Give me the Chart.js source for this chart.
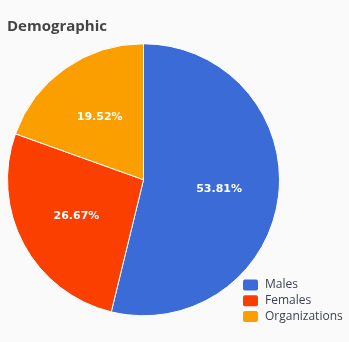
<!DOCTYPE html>
<html>
<head>
<meta charset="utf-8">
<script src="https://cdn.jsdelivr.net/npm/chart.js@4/dist/chart.umd.min.js"></script>
<style>
  html, body { margin: 0; padding: 0; background: #fafafa; }
  #wrap { width: 349px; height: 342px; position: relative; }
</style>
</head>
<body>
<div id="wrap"><canvas id="c" width="349" height="342"></canvas></div>
<script>
// Demographic breakdown (percent of total)
const categories = ['Males', 'Females', 'Organizations'];
const shares = [53.81, 26.67, 19.52];
const sliceColors = ['#3a6bd6', '#fb3f00', '#fb9e00'];

// White percentage text inside each slice
const sliceLabels = {
  id: 'sliceLabels',
  afterDatasetsDraw(chart) {
    const ctx = chart.ctx;
    const meta = chart.getDatasetMeta(0);
    const values = chart.data.datasets[0].data;
    ctx.save();
    ctx.font = 'bold 11px "DejaVu Sans", sans-serif';
    ctx.fillStyle = '#ffffff';
    ctx.textAlign = 'center';
    ctx.textBaseline = 'middle';
    meta.data.forEach((arc, i) => {
      const p = arc.getProps(['x', 'y', 'startAngle', 'endAngle', 'outerRadius'], true);
      const mid = (p.startAngle + p.endAngle) / 2;
      const r = p.outerRadius * 0.56;
      ctx.fillText(values[i].toFixed(2) + '%', p.x + Math.cos(mid) * r, p.y + Math.sin(mid) * r);
    });
    ctx.restore();
  }
};

// Compact legend in the lower right corner
const cornerLegend = {
  id: 'cornerLegend',
  afterDraw(chart) {
    const ctx = chart.ctx;
    const ds = chart.data.datasets[0];
    const boxX = chart.width - 106;
    const textX = boxX + 22;
    const firstY = chart.height - 57;
    const step = 15.75;
    ctx.save();
    ctx.font = '12px "Open Sans", sans-serif';
    ctx.textAlign = 'left';
    ctx.textBaseline = 'middle';
    chart.data.labels.forEach((lab, i) => {
      const cy = firstY + i * step;
      ctx.fillStyle = ds.backgroundColor[i];
      ctx.beginPath();
      ctx.roundRect(boxX, cy - 5.5, 15, 11, 2);
      ctx.fill();
      ctx.fillStyle = '#3d4354';
      ctx.fillText(lab, textX, cy);
    });
    ctx.restore();
  }
};

new Chart(document.getElementById('c'), {
  type: 'pie',
  data: {
    labels: categories,
    datasets: [{
      data: shares,
      backgroundColor: sliceColors,
      borderColor: '#ffffff',
      borderWidth: 1
    }]
  },
  options: {
    responsive: false,
    animation: false,
    layout: { padding: { left: 7, right: 69, top: 8, bottom: 25.5 } },
    plugins: {
      legend: { display: false },
      tooltip: { enabled: false },
      title: {
        display: true,
        text: 'Demographic',
        align: 'start',
        color: '#454545',
        font: { family: '"Open Sans", sans-serif', size: 15, weight: 'bold' },
        padding: { top: 10, bottom: 7 }
      }
    }
  },
  plugins: [sliceLabels, cornerLegend]
});
</script>
</body>
</html>
